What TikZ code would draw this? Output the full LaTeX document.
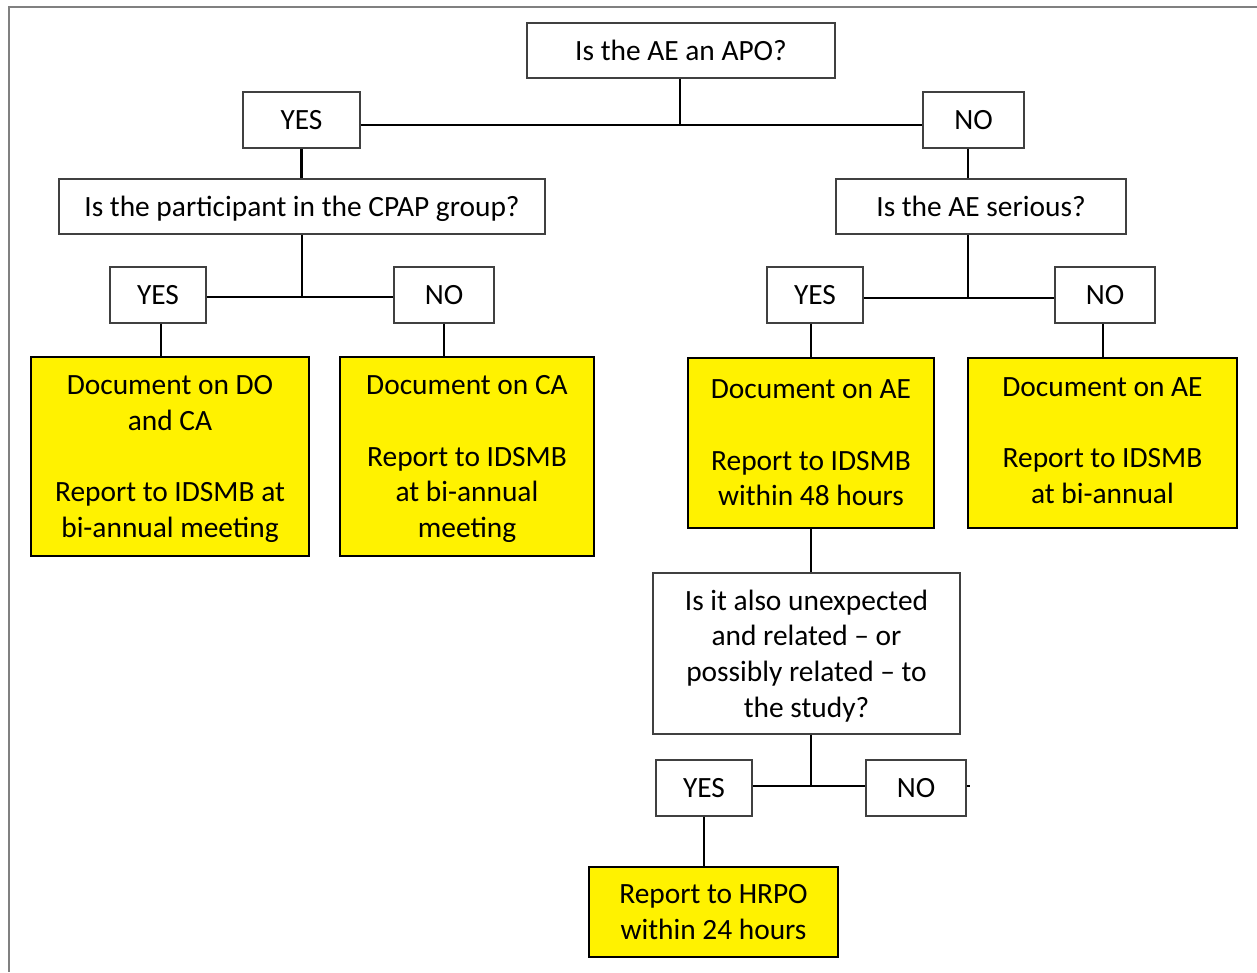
\documentclass[tikz,border=0pt]{standalone}
\usepackage{fontspec}
\setmainfont{Carlito}
\begin{document}
\begin{tikzpicture}[x=1pt,y=-1pt,
  every node/.style={font=\fontsize{29.4}{35.7}\selectfont, align=center, inner sep=0pt},
  qbox/.style={draw=black!75, line width=1.3pt, fill=white},
  ybox/.style={draw=black, line width=2pt, fill=yellow},
  conn/.style={line width=2.8pt, draw=black},
  frame/.style={draw=black!50, line width=2pt}]
\useasboundingbox (0,0) rectangle (1257,972);
\draw[frame] (1257,7) -- (9,7) -- (9,972);

% question and answer boxes
\node[qbox, minimum width=308pt, minimum height=55pt] (q1) at (681,50.5) {Is the AE an APO?};
\node[qbox, minimum width=117pt, minimum height=56pt] (yes1) at (301.5,120) {YES};
\node[qbox, minimum width=101pt, minimum height=56pt] (no1) at (973.5,120) {NO};
\node[qbox, minimum width=486pt, minimum height=55pt, text depth=0pt] (q2) at (302,206.5) {Is the participant in the CPAP group?};
\node[qbox, minimum width=290pt, minimum height=55pt] (q3) at (981,206.5) {Is the AE serious?};
\node[qbox, minimum width=96pt, minimum height=56pt] (yes2) at (158,295) {YES};
\node[qbox, minimum width=100pt, minimum height=56pt] (no2) at (444,295) {NO};
\node[qbox, minimum width=96pt, minimum height=56pt] (yes3) at (815,295) {YES};
\node[qbox, minimum width=100pt, minimum height=56pt] (no3) at (1105,295) {NO};

% outcome boxes
\node[ybox, minimum width=278pt, minimum height=199pt, text depth=0pt] (A) at (170,456.5)
  {Document on DO\\and CA\\\mbox{}\\Report to IDSMB at\\bi-annual meeting};
\node[ybox, minimum width=254pt, minimum height=199pt, text depth=0pt] (B) at (467,456.5)
  {Document on CA\\\mbox{}\\Report to IDSMB\\at bi-annual\\meeting};
\node[ybox, minimum width=246pt, minimum height=170pt, text depth=0pt] (C) at (811,443)
  {Document on AE\\\mbox{}\\Report to IDSMB\\within 48 hours};
\node[ybox, minimum width=269pt, minimum height=170pt, text depth=5pt] (D) at (1102.5,443)
  {Document on AE\\\mbox{}\\Report to IDSMB\\at bi-annual};

\node[qbox, minimum width=307pt, minimum height=161pt, text depth=0pt] (q4) at (806.5,653.5)
  {Is it also unexpected\\and related – or\\possibly related – to\\the study?};
\node[qbox, minimum width=96pt, minimum height=56pt] (yes4) at (704,788) {YES};
\node[qbox, minimum width=100pt, minimum height=56pt] (no4) at (916,788) {NO};
\node[ybox, minimum width=249pt, minimum height=90pt, text depth=0pt] (E) at (713.5,912)
  {Report to HRPO\\within 24 hours};

% junctions
\coordinate (j1) at (680,125);
\coordinate (j2) at (302,297);
\coordinate (j3) at (968,298);
\coordinate (j4) at (811,786);

% connectors
\draw[conn] (q1.south -| j1) -- (j1);
\draw[conn] (yes1.east |- j1) -- (no1.west |- j1);
\draw[conn] (yes1.south) -- (yes1.south |- q2.north);
\draw[conn] ([xshift=-5.5pt]no1.south) -- ([xshift=-5.5pt]no1.south |- q3.north);

\draw[conn] (q2.south -| j2) -- (j2);
\draw[conn] (yes2.east |- j2) -- (no2.west |- j2);
\draw[conn] (q3.south -| j3) -- (j3);
\draw[conn] (yes3.east |- j3) -- (no3.west |- j3);

\draw[conn] ([xshift=3pt]yes2.south) -- ([xshift=3pt]yes2.south |- A.north);
\draw[conn] (no2.south) -- (no2.south |- B.north);
\draw[conn] ([xshift=-4pt]yes3.south) -- ([xshift=-4pt]yes3.south |- C.north);
\draw[conn] ([xshift=-2pt]no3.south) -- ([xshift=-2pt]no3.south |- D.north);

\draw[conn] (C.south) -- (C.south |- q4.north);
\draw[conn] (q4.south -| j4) -- (j4);
\draw[conn] (yes4.east |- j4) -- (no4.west |- j4);
\coordinate (tick) at (970,786);
\draw[conn] (no4.east |- j4) -- (tick);
\draw[conn] (yes4.south) -- (yes4.south |- E.north);
\end{tikzpicture}
\end{document}
